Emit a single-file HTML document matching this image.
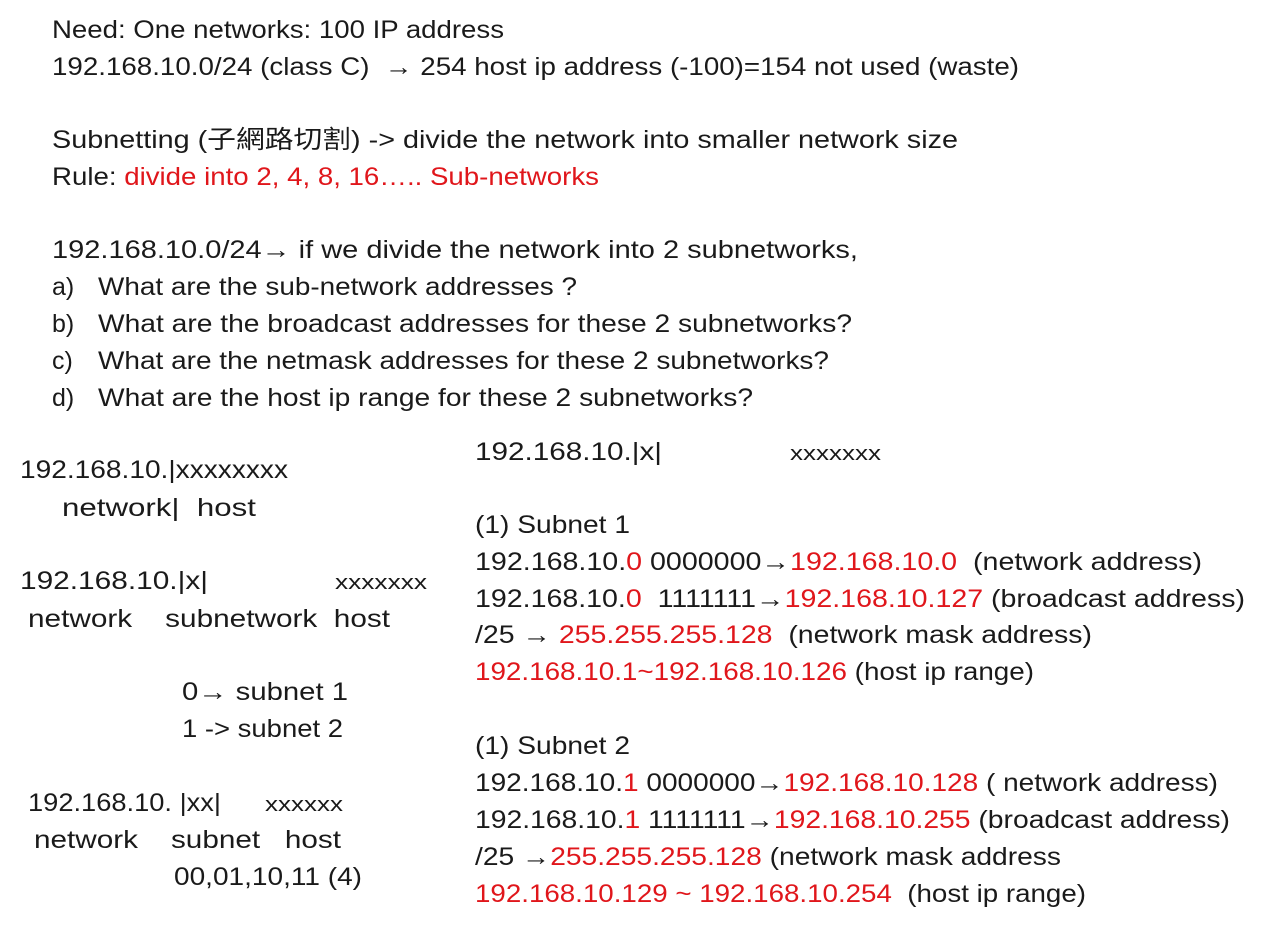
<!DOCTYPE html>
<html><head><meta charset="utf-8"><style>
html,body{margin:0;padding:0;background:#fff;}
svg{display:block}
text{font-family:"Liberation Sans","Noto Sans CJK TC",sans-serif;font-size:25px;fill:#1a1a1a;white-space:pre;}
.r{fill:#e0161b;}
.s{font-size:20px;}
.a{font-weight:bold;}
</style></head><body>
<svg width="1280" height="931" viewBox="0 0 1280 931" xmlns="http://www.w3.org/2000/svg" xml:space="preserve">
<text x="52" y="38" textLength="452" lengthAdjust="spacingAndGlyphs">Need: One networks: 100 IP address</text>
<text x="52" y="75" textLength="967" lengthAdjust="spacingAndGlyphs">192.168.10.0/24 (class C)  <tspan class="a">→</tspan> 254 host ip address (-100)=154 not used (waste)</text>
<text x="52" y="148" textLength="906" lengthAdjust="spacingAndGlyphs">Subnetting (子網路切割) -&gt; divide the network into smaller network size</text>
<text x="52" y="185" textLength="547" lengthAdjust="spacingAndGlyphs">Rule: <tspan class="r">divide into 2, 4, 8, 16….. Sub-networks</tspan></text>
<text x="52" y="258" textLength="806" lengthAdjust="spacingAndGlyphs">192.168.10.0/24<tspan class="a">→</tspan> if we divide the network into 2 subnetworks,</text>
<text x="52" y="295">a)</text><text x="98" y="295" textLength="479" lengthAdjust="spacingAndGlyphs">What are the sub-network addresses ?</text>
<text x="52" y="332">b)</text><text x="98" y="332" textLength="754" lengthAdjust="spacingAndGlyphs">What are the broadcast addresses for these 2 subnetworks?</text>
<text x="52" y="369">c)</text><text x="98" y="369" textLength="731" lengthAdjust="spacingAndGlyphs">What are the netmask addresses for these 2 subnetworks?</text>
<text x="52" y="406">d)</text><text x="98" y="406" textLength="655" lengthAdjust="spacingAndGlyphs">What are the host ip range for these 2 subnetworks?</text>

<text x="475" y="460" textLength="187" lengthAdjust="spacingAndGlyphs">192.168.10.|x|</text>
<text x="790" y="460" class="s" textLength="91" lengthAdjust="spacingAndGlyphs">xxxxxxx</text>
<text x="20" y="478" textLength="268" lengthAdjust="spacingAndGlyphs">192.168.10.|xxxxxxxx</text>
<text x="62" y="516" textLength="194" lengthAdjust="spacingAndGlyphs">network|  host</text>
<text x="475" y="533" textLength="155" lengthAdjust="spacingAndGlyphs">(1) Subnet 1</text>
<text x="475" y="570" textLength="727" lengthAdjust="spacingAndGlyphs">192.168.10.<tspan class="r">0</tspan> 0000000<tspan class="a">→</tspan><tspan class="r">192.168.10.0</tspan>  (network address)</text>
<text x="20" y="589" textLength="188" lengthAdjust="spacingAndGlyphs">192.168.10.|x|</text>
<text x="335" y="589" class="s" textLength="92" lengthAdjust="spacingAndGlyphs">xxxxxxx</text>
<text x="475" y="607" textLength="770" lengthAdjust="spacingAndGlyphs">192.168.10.<tspan class="r">0</tspan>  1111111<tspan class="a">→</tspan><tspan class="r">192.168.10.127</tspan> (broadcast address)</text>
<text x="28" y="627" textLength="362" lengthAdjust="spacingAndGlyphs">network    subnetwork  host</text>
<text x="475" y="643" textLength="617" lengthAdjust="spacingAndGlyphs">/25 <tspan class="a">→</tspan> <tspan class="r">255.255.255.128</tspan>  (network mask address)</text>
<text x="475" y="680" textLength="559" lengthAdjust="spacingAndGlyphs"><tspan class="r">192.168.10.1~192.168.10.126</tspan> (host ip range)</text>
<text x="182" y="700" textLength="166" lengthAdjust="spacingAndGlyphs">0<tspan class="a">→</tspan> subnet 1</text>
<text x="182" y="737" textLength="161" lengthAdjust="spacingAndGlyphs">1 -&gt; subnet 2</text>
<text x="475" y="754" textLength="155" lengthAdjust="spacingAndGlyphs">(1) Subnet 2</text>
<text x="475" y="791" textLength="743" lengthAdjust="spacingAndGlyphs">192.168.10.<tspan class="r">1</tspan> 0000000<tspan class="a">→</tspan><tspan class="r">192.168.10.128</tspan> ( network address)</text>
<text x="28" y="811" textLength="193" lengthAdjust="spacingAndGlyphs">192.168.10. |xx|</text>
<text x="265" y="811" class="s" textLength="78" lengthAdjust="spacingAndGlyphs">xxxxxx</text>
<text x="475" y="828" textLength="755" lengthAdjust="spacingAndGlyphs">192.168.10.<tspan class="r">1</tspan> 1111111<tspan class="a">→</tspan><tspan class="r">192.168.10.255</tspan> (broadcast address)</text>
<text x="34" y="848" textLength="307" lengthAdjust="spacingAndGlyphs">network    subnet   host</text>
<text x="475" y="865" textLength="586" lengthAdjust="spacingAndGlyphs">/25 <tspan class="a">→</tspan><tspan class="r">255.255.255.128</tspan> (network mask address</text>
<text x="174" y="885" textLength="188" lengthAdjust="spacingAndGlyphs">00,01,10,11 (4)</text>
<text x="475" y="902" textLength="611" lengthAdjust="spacingAndGlyphs"><tspan class="r">192.168.10.129 ~ 192.168.10.254</tspan>  (host ip range)</text>
</svg>
</body></html>
